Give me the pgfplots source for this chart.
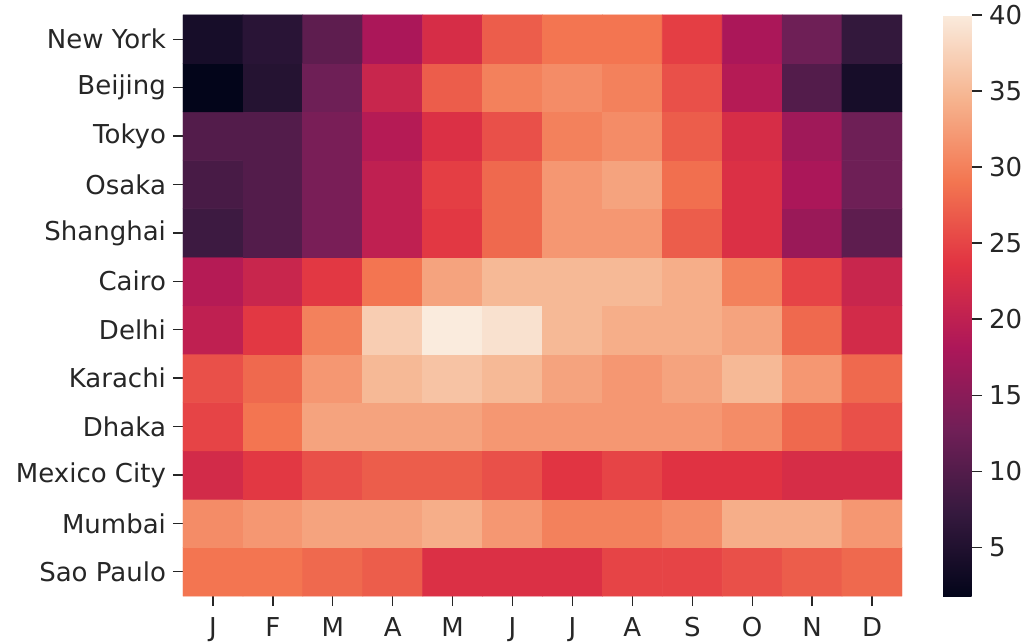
\documentclass[border=0pt]{standalone}
\usepackage{fontspec}
\setmainfont{DejaVu Sans}
\usepackage{pgfplots}
\pgfplotsset{compat=1.18}
\usepackage{pgfplotstable}
\definecolor{txtgray}{HTML}{262626}
\pgfplotsset{
  colormap={rocket}{rgb255=(3,5,26) rgb255=(53,25,62) rgb255=(112,31,87) rgb255=(173,23,89) rgb255=(225,51,66) rgb255=(243,118,81) rgb255=(246,180,143) rgb255=(250,235,221)}
}
% x = month index, y = city index (0 = Sao Paulo ... 11 = New York)
\pgfplotstableread{
x y c
0 0 29
1 0 29
2 0 28
3 0 27
4 0 23
5 0 23
6 0 23
7 0 25
8 0 25
9 0 26
10 0 27
11 0 28
0 1 31
1 1 32
2 1 33
3 1 33
4 1 34
5 1 32
6 1 30
7 1 30
8 1 31
9 1 34
10 1 34
11 1 32
0 2 22
1 2 24
2 2 26
3 2 27
4 2 27
5 2 26
6 2 23.7
7 2 25
8 2 23.5
9 2 23.5
10 2 22.5
11 2 22.5
0 3 25
1 3 29
2 3 33
3 3 33
4 3 33
5 3 32
6 3 32
7 3 32
8 3 32
9 3 31
10 3 28
11 3 26
0 4 26
1 4 28
2 4 32
3 4 35
4 4 36
5 4 35
6 4 33
7 4 32
8 4 33
9 4 35
10 4 32
11 4 28
0 5 20
1 5 24
2 5 30
3 5 37
4 5 40
5 5 39
6 5 35
7 5 34
8 5 34
9 5 33
10 5 28
11 5 22
0 6 19
1 6 21
2 6 24
3 6 29
4 6 33
5 6 35
6 6 35
7 6 35
8 6 34
9 6 30
10 6 25
11 6 21
0 7 8
1 7 10
2 7 13.5
3 7 20
4 7 24
5 7 28
6 7 32
7 7 32
8 7 27
9 7 23
10 7 16.5
11 7 11
0 8 9
1 8 10
2 8 13.5
3 8 20
4 8 24.5
5 8 28
6 8 32
7 8 33
8 8 28.5
9 8 23
10 8 18
11 8 12.5
0 9 10
1 9 10
2 9 13.5
3 9 19
4 9 23
5 9 26
6 9 30
7 9 31
8 9 27
9 9 22.5
10 9 17
11 9 12.5
0 10 1.8
1 10 5.5
2 10 12.5
3 10 21
4 10 27
5 10 30
6 10 31
7 10 30
8 10 26
9 10 19
10 10 10
11 10 4
0 11 4
1 11 6
2 11 11
3 11 18
4 11 22.5
5 11 27
6 11 29
7 11 29
8 11 24.5
9 11 18
10 11 12.5
11 11 7
}\heat
\begin{document}
\begin{tikzpicture}
\path[use as bounding box] (-91.5pt,-23.5pt) rectangle (426.5pt,298pt);
\begin{axis}[
  at={(0,0)}, anchor=south west,
  scale only axis, width=359.5pt, height=290.5pt,
  xmin=-0.5, xmax=11.5, ymin=-0.5, ymax=11.5,
  axis line style={draw=none},
  xtick={0,...,11}, ytick={0,...,11},
  xticklabels={J,F,M,A,M,J,J,A,S,O,N,D},
  yticklabels={Sao Paulo,Mumbai,Mexico City,Dhaka,Karachi,Delhi,Cairo,Shanghai,Osaka,Tokyo,Beijing,New York},
  tick align=outside, major tick length=5pt,
  xtick pos=left, ytick pos=left,
  tick style={color=txtgray, line width=0.7pt},
  tick label style={font=\fontsize{13}{15}\selectfont, text=txtgray},
  xticklabel style={yshift=-2pt},
  colormap name=rocket,
  point meta min=1.8, point meta max=40,
  colorbar,
  colorbar style={
    at={(parent axis.north east)}, anchor=north west, xshift=12pt,
    scale only axis, width=14.5pt, height=290.5pt,
    ytick={5,10,...,40},
    axis line style={draw=none},
    tick align=outside, major tick length=5pt,
    ytick pos=right, yticklabel pos=right,
    tick style={color=txtgray, line width=0.7pt},
    tick label style={font=\fontsize{13}{15}\selectfont, text=txtgray},
    /pgf/number format/assume math mode=true,
  },
]
\addplot[matrix plot*, mesh/cols=12, point meta=explicit, draw=none] table[x=x, y=y, meta=c] {\heat};
\end{axis}
\end{tikzpicture}
\end{document}
